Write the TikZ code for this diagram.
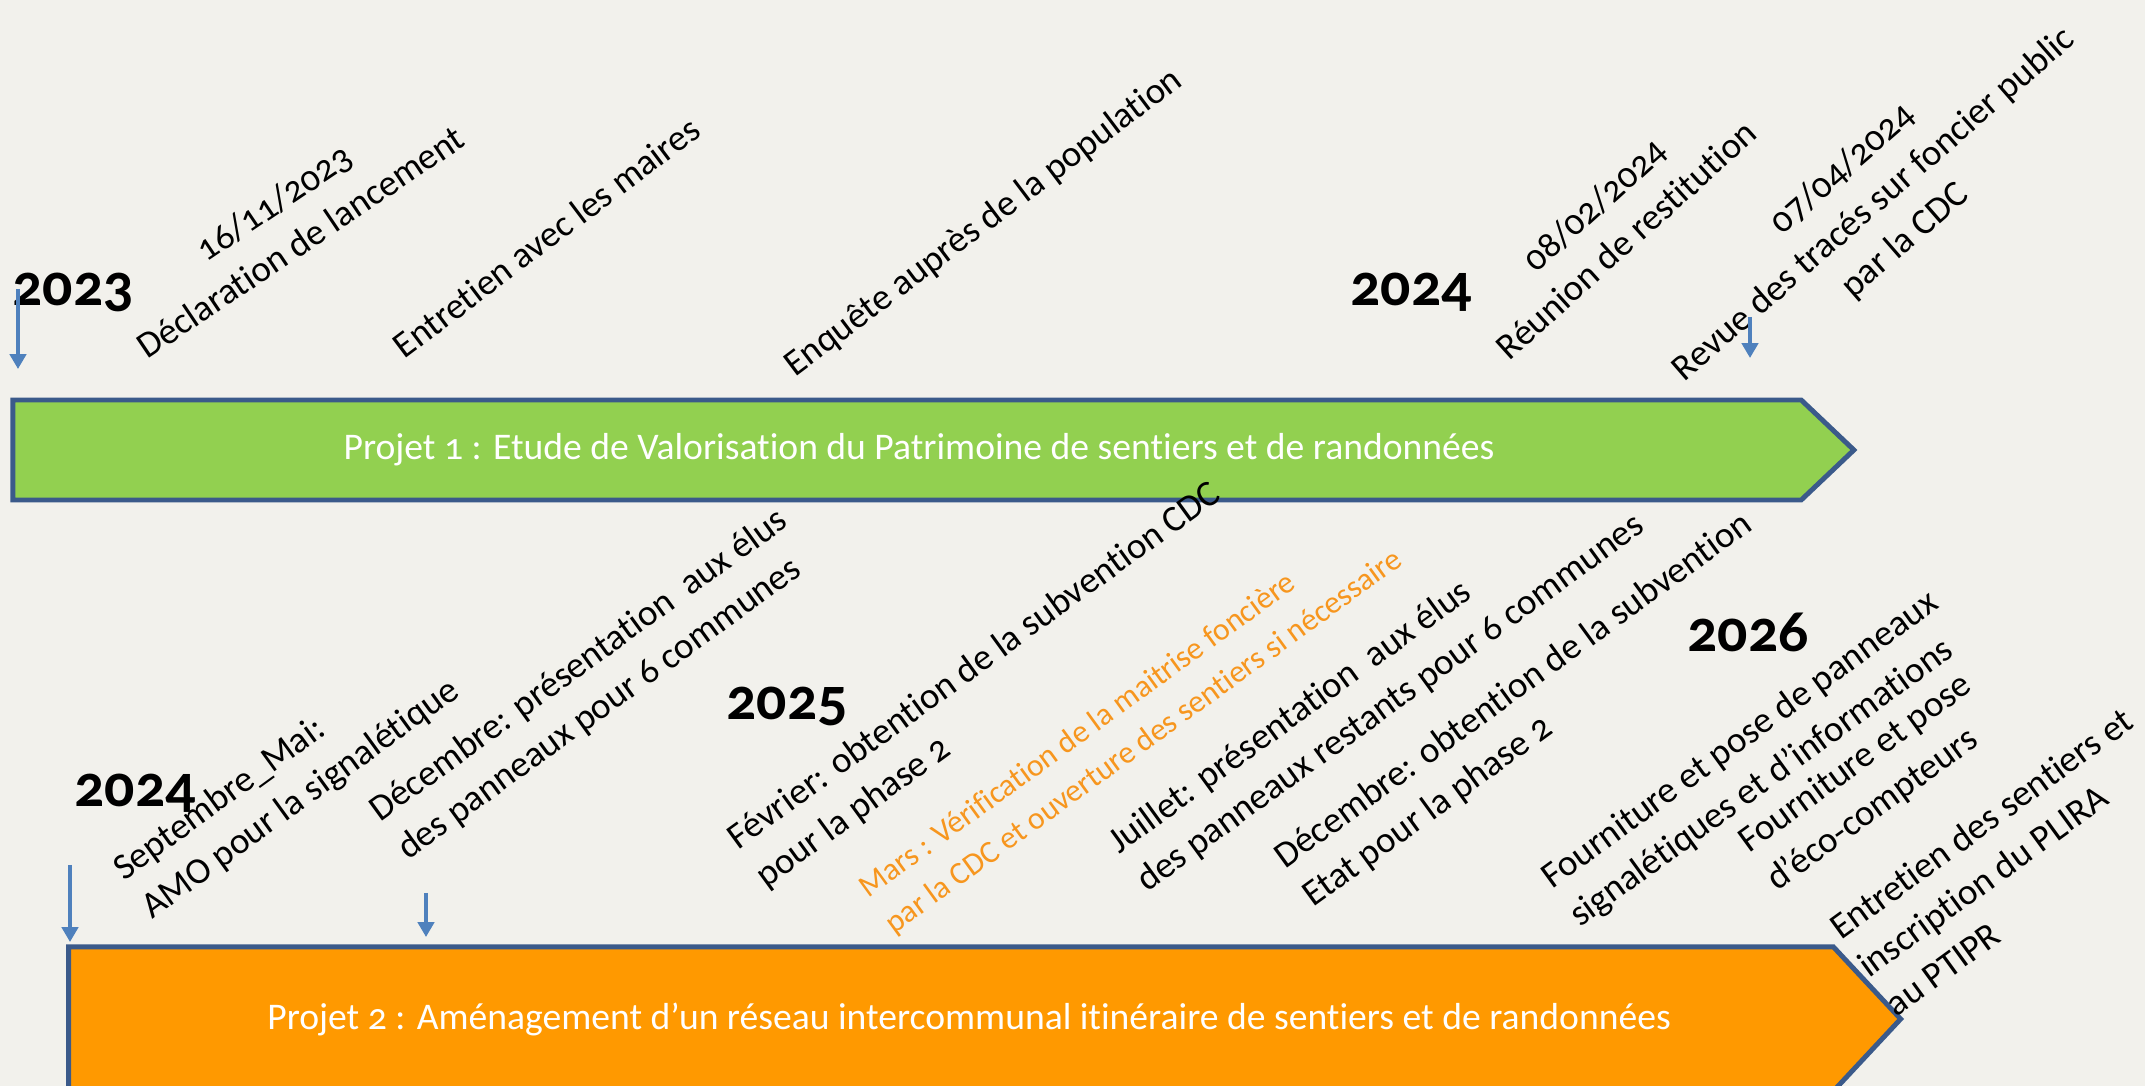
\documentclass[tikz,border=0pt]{standalone}
\usepackage{fontspec}
\setmainfont{Carlito}[Numbers=OldStyle,Ligatures=NoCommon]
\usetikzlibrary{arrows.meta,shapes.symbols}
\definecolor{paper}{RGB}{242,241,236}
\definecolor{leafbar}{RGB}{146,208,80}
\definecolor{sunbar}{RGB}{255,153,0}
\definecolor{edge}{RGB}{59,90,138}
\definecolor{pinblue}{RGB}{79,129,189}
\definecolor{marsink}{RGB}{247,150,30}
\tikzset{
  >={Triangle[length=4.2pt,width=4.6pt]},
  bar/.style={signal,signal to=east,signal from=nowhere,fill=#1,draw=edge,line width=1.4pt,
    text=white,font=\fontsize{10.7}{12.8}\selectfont,inner sep=0pt,outer sep=0pt},
  year/.style={font=\fontsize{17}{20}\selectfont\bfseries,anchor=base,inner sep=0pt},
  lbl/.style={font=\fontsize{10.5}{13.5}\selectfont,inner sep=0pt,rotate=#1,align=center},
  lbl/.default=36,
  lbll/.style={lbl=#1,align=left,anchor=west},
  lbll/.default=36,
  drop/.style={->,draw=pinblue,line width=1pt},
}
\begin{document}
\begin{tikzpicture}[x=0.01cm,y=-0.01cm]
  \useasboundingbox (0,0) rectangle (2145,1086);
  \fill[paper] (0,0) rectangle (2145,1086);
  % the two projects
  \node[bar=leafbar,minimum width=18.4cm,minimum height=1cm,signal pointer angle=87] (proj1) at (907,450)
    {\hspace*{0.24cm}Projet 1 : Etude de Valorisation du Patrimoine de sentiers et de randonnées};
  \node[bar=sunbar,minimum width=18.31cm,minimum height=1.44cm,signal pointer angle=94] (proj2) at (951,1019)
    {\hspace*{0.36cm}Projet 2 : Aménagement d’un réseau intercommunal itinéraire de sentiers et de randonnées};
  % years
  \node[year] (y23) at (73,306) {2023};
  \node[year] (y24a) at (1411,306) {2024};
  \node[year] (y24b) at (135,807) {2024};
  \node[year] (y25) at (787,720) {2025};
  \node[year] (y26) at (1748,652) {2026};
  % projet 1 steps
  \node[lbl=34] (t1) at (287,222) {16/11/2023\\Déclaration de lancement};
  \node[lbl=37] (t2) at (546,237) {Entretien avec les maires};
  \node[lbl=37] (t3) at (984,223) {Enquête auprès de la population};
  \node[lbl=42] (t4) at (1610,222) {08/02/2024\\Réunion de restitution};
  \node[lbl=41] (t5) at (1874,205) {07/04/2024\\Revue des tracés sur foncier public\\par la CDC};
  % projet 2 steps
  \node[lbll] (b1) at (132,893) {Septembre\_Mai:\\AMO pour la signalétique};
  \node[lbll] (b2) at (388,834) {Décembre: présentation\ \ aux élus\\des panneaux pour 6 communes};
  \node[lbll] (b3) at (746,862) {Février: obtention de la subvention CDC\\pour la phase 2};
  \node[lbll,text=marsink,font=\fontsize{9}{12.5}\selectfont] (b4) at (876,910)
    {Mars : Vérification de la maitrise foncière\\par la CDC et ouverture des sentiers si nécessaire};
  \node[lbll] (b5) at (1127,866) {Juillet: présentation\ \ aux élus\\des panneaux restants pour 6 communes};
  \node[lbll] (b6) at (1293,881) {Décembre: obtention de la subvention\\Etat pour la phase 2};
  \node[lbll] (b7) at (1560,901) {Fourniture et pose de panneaux\\signalétiques et d’informations};
  \node[lbll] (b8) at (1757,865) {Fourniture et pose\\d’éco-compteurs};
  \node[lbll] (b9) at (1861,969) {Entretien des sentiers et\\inscription du PLIRA\\au PTIPR};
  % markers
  \coordinate (m1) at (18,289);   \coordinate (m1e) at (18,369);
  \coordinate (m2) at (1750,317); \coordinate (m2e) at (1750,358);
  \coordinate (m3) at (70,865);   \coordinate (m3e) at (70,942);
  \coordinate (m4) at (426,893);  \coordinate (m4e) at (426,937);
  \foreach \a in {m1,m2,m3,m4} \draw[drop] (\a) -- (\a e);
\end{tikzpicture}
\end{document}
